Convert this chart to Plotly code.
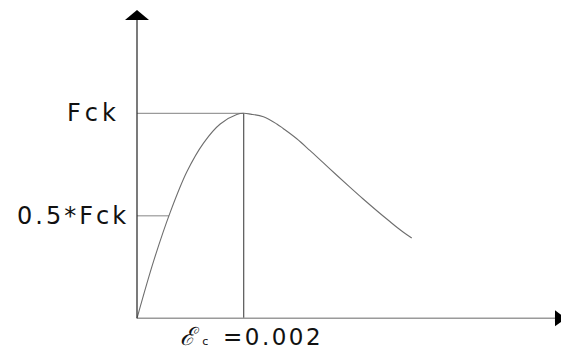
import plotly.graph_objects as go

# Concrete stress-strain curve (stress as a fraction of Fck)
strain = [0, 0.000313, 0.000624, 0.000937, 0.00125, 0.00156, 0.00187, 0.002,
          0.00213, 0.00237, 0.00262, 0.00274, 0.00299, 0.00324, 0.00349,
          0.00374, 0.00399, 0.00424, 0.00449, 0.00474, 0.00495, 0.00515]
stress = [0, 0.280, 0.518, 0.716, 0.856, 0.948, 0.994, 1.0,
          0.996, 0.983, 0.948, 0.926, 0.877, 0.819, 0.759,
          0.699, 0.640, 0.582, 0.526, 0.472, 0.428, 0.392]

peak_strain = 0.002
fck_level = 1.0
half_level = 0.5
half_strain = 0.00060          # where the curve crosses 0.5*Fck
tick_labels = ["Fck", "0.5*Fck"]
strain_label = "=0.002"

W, H = 561, 356
x_range = [-0.002568, 0.007948]
y_range = [-0.1839, 1.5527]
x_end = 0.007835               # end of the strain axis (arrow base)
y_end = 1.455                  # end of the stress axis (arrow base)

dx = (x_range[1] - x_range[0]) / W   # data units per pixel
dy = (y_range[1] - y_range[0]) / H

fig = go.Figure()

# reference lines at Fck and 0.5*Fck, and the vertical at peak strain
fig.add_trace(go.Scatter(x=[0, peak_strain], y=[fck_level, fck_level], mode="lines",
                         line=dict(color="#9a9a9a", width=1.2), hoverinfo="skip"))
fig.add_trace(go.Scatter(x=[0, half_strain], y=[half_level, half_level], mode="lines",
                         line=dict(color="#9a9a9a", width=1.2), hoverinfo="skip"))
fig.add_trace(go.Scatter(x=[peak_strain, peak_strain], y=[0, fck_level], mode="lines",
                         line=dict(color="#555555", width=1.2), hoverinfo="skip"))

# the curve itself
fig.add_trace(go.Scatter(x=strain, y=stress, mode="lines",
                         line=dict(color="#6e6e6e", width=1.1, shape="spline", smoothing=1.0),
                         hoverinfo="skip"))

# axes with arrowheads
fig.add_trace(go.Scatter(x=[0, x_end], y=[0, 0], mode="lines",
                         line=dict(color="#9a9a9a", width=1.5), hoverinfo="skip"))
fig.add_trace(go.Scatter(x=[0, 0], y=[0, y_end], mode="lines",
                         line=dict(color="#333333", width=1.3), hoverinfo="skip"))

shapes = [
    dict(type="path", xref="x", yref="y", fillcolor="black", line=dict(width=0),
         path=f"M {-12*dx} {y_end} L {12*dx} {y_end} L 0 {y_end + 10*dy} Z"),
    dict(type="path", xref="x", yref="y", fillcolor="black", line=dict(width=0),
         path=f"M {x_end} {-8*dy} L {x_end} {8*dy} L {x_end + 11*dx} 0 Z"),
]

label_font = dict(family="DejaVu Sans", size=24, color="#111111")
annotations = [
    dict(x=0, y=fck_level, xref="x", yref="y", xanchor="right", yanchor="middle",
         xshift=-15, text=f"<span style='letter-spacing:4px'>{tick_labels[0]}</span>",
         showarrow=False, font=label_font),
    dict(x=0, y=half_level, xref="x", yref="y", xanchor="right", yanchor="middle",
         xshift=-6, text=f"<span style='letter-spacing:3px'>{tick_labels[1]}</span>",
         showarrow=False, font=label_font),
    dict(x=peak_strain, y=0, xref="x", yref="y", xanchor="left", yanchor="top",
         xshift=-66, yshift=-2,
         text=("<span style='font-family:DejaVu Serif;font-style:italic;font-size:25px'>ℰ</span>"
               "&nbsp;<span style='font-size:11px'>c</span>&nbsp;&nbsp;"
               f"<span style='letter-spacing:2.5px'>{strain_label}</span>"),
         showarrow=False, font=dict(family="DejaVu Sans", size=23, color="#111111")),
]

fig.update_layout(
    width=W, height=H, margin=dict(l=0, r=0, t=0, b=0),
    paper_bgcolor="white", plot_bgcolor="white", showlegend=False,
    xaxis=dict(range=x_range, visible=False, fixedrange=True),
    yaxis=dict(range=y_range, visible=False, fixedrange=True),
    shapes=shapes, annotations=annotations,
)

fig.write_html("out.html")
